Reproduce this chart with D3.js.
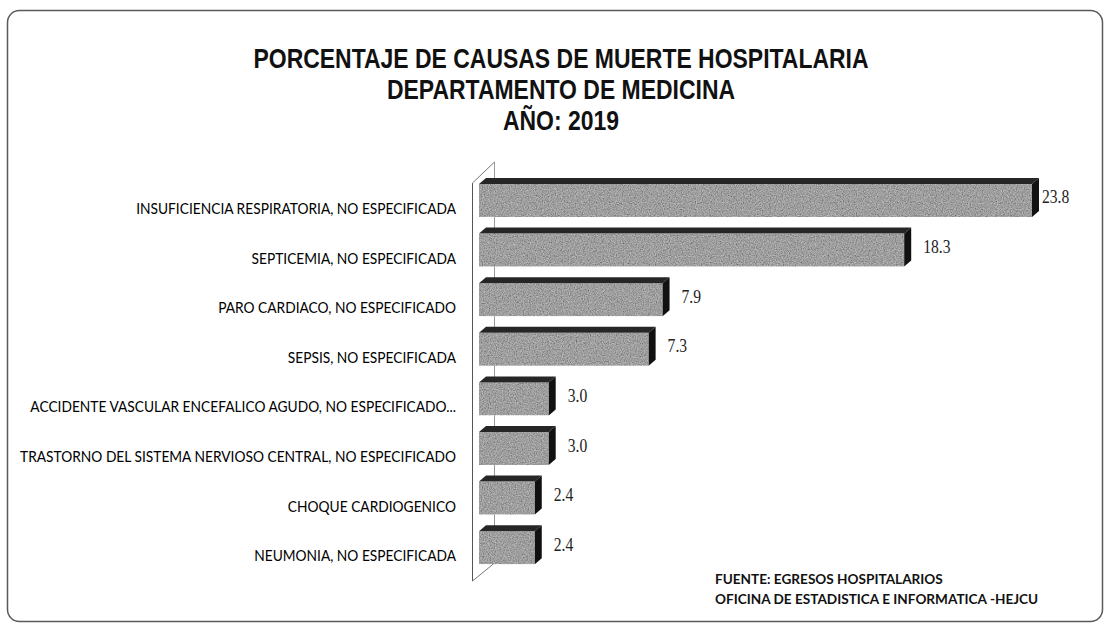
<!DOCTYPE html>
<html>
<head>
<meta charset="utf-8">
<script src="https://cdn.jsdelivr.net/npm/d3@7"></script>
<style>
  body { margin: 0; background: #fff; }
</style>
</head>
<body>
<script>
// datos
const causes = [
  "INSUFICIENCIA RESPIRATORIA, NO ESPECIFICADA",
  "SEPTICEMIA, NO ESPECIFICADA",
  "PARO CARDIACO, NO ESPECIFICADO",
  "SEPSIS, NO ESPECIFICADA",
  "ACCIDENTE VASCULAR ENCEFALICO AGUDO, NO ESPECIFICADO...",
  "TRASTORNO DEL SISTEMA NERVIOSO CENTRAL, NO ESPECIFICADO",
  "CHOQUE CARDIOGENICO",
  "NEUMONIA, NO ESPECIFICADA"
];
const values = [23.8, 18.3, 7.9, 7.3, 3.0, 3.0, 2.4, 2.4];
const titleLines = [
  "PORCENTAJE DE CAUSAS DE MUERTE HOSPITALARIA",
  "DEPARTAMENTO DE MEDICINA",
  "AÑO: 2019"
];
const sourceLines = [
  "FUENTE: EGRESOS HOSPITALARIOS",
  "OFICINA DE ESTADISTICA E INFORMATICA -HEJCU"
];

const width = 1110, height = 631;
const depthX = 7, depthY = 6;

const data = causes.map((c, i) => ({cause: c, value: values[i]}));

const svg = d3.select("body").append("svg")
    .attr("width", width)
    .attr("height", height);

// textura granulada de las barras
const defs = svg.append("defs");
const grain = defs.append("filter").attr("id", "grain")
    .attr("x", 0).attr("y", 0).attr("width", "100%").attr("height", "100%");
grain.append("feTurbulence")
    .attr("type", "fractalNoise").attr("baseFrequency", 0.85)
    .attr("numOctaves", 2).attr("seed", 5).attr("result", "noise");
grain.append("feColorMatrix")
    .attr("in", "noise").attr("type", "saturate").attr("values", 0).attr("result", "gray");
const ct = grain.append("feComponentTransfer").attr("in", "gray").attr("result", "g2");
["feFuncR", "feFuncG", "feFuncB"].forEach(f =>
  ct.append(f).attr("type", "linear").attr("slope", 1.4).attr("intercept", 0.0));
ct.append("feFuncA").attr("type", "linear").attr("slope", 0).attr("intercept", 1);
grain.append("feBlend").attr("in", "SourceGraphic").attr("in2", "g2")
    .attr("mode", "multiply").attr("result", "b");
grain.append("feComposite").attr("in", "b").attr("in2", "SourceGraphic").attr("operator", "in");

// marco
svg.append("rect")
    .attr("x", 7.5).attr("y", 10.5)
    .attr("width", 1095).attr("height", 611)
    .attr("rx", 12)
    .attr("fill", "none")
    .attr("stroke", "#5a5a5a")
    .attr("stroke-width", 1.5);

// titulo
const tx = 561;
svg.append("g").selectAll("text")
    .data(titleLines)
    .join("text")
    .attr("x", tx)
    .attr("y", (d, i) => 68 + i * 31)
    .attr("text-anchor", "middle")
    .attr("transform", `translate(${tx},0) scale(0.82,1) translate(${-tx},0)`)
    .style("font-family", "'Liberation Sans', Arial, sans-serif")
    .style("font-weight", "bold")
    .style("font-size", "28px")
    .style("fill", "#111")
    .text(d => d);

var xScale = d3.scaleLinear()
    .domain([0, 23.8])
    .range([479, 1032]);

var yScale = d3.scaleBand()
    .domain(causes)
    .range([178, 564.2])
    .paddingInner(0.214);

// pared del eje
const x0 = xScale(0);
const wall = svg.append("g")
    .attr("fill", "none")
    .attr("stroke-width", 1);
wall.append("line")
    .attr("x1", 494.5).attr("y1", 162).attr("x2", 494.5).attr("y2", 563)
    .attr("stroke", "#9a9a9a");
wall.append("line")
    .attr("x1", 472.5).attr("y1", 183).attr("x2", 472.5).attr("y2", 581)
    .attr("stroke", "#555");
wall.append("line")
    .attr("x1", 472.5).attr("y1", 183).attr("x2", 494.5).attr("y2", 162)
    .attr("stroke", "#777");
wall.append("line")
    .attr("x1", 472.5).attr("y1", 581).attr("x2", 494.5).attr("y2", 563)
    .attr("stroke", "#777");

// etiquetas de categoria
const lx0 = 456;
svg.append("g").selectAll("text")
    .data(data)
    .join("text")
    .attr("x", lx0)
    .attr("y", d => yScale(d.cause) + yScale.bandwidth() / 2 + 16.5)
    .attr("text-anchor", "end")
    .attr("transform", `translate(${lx0},0) scale(0.95,1) translate(${-lx0},0)`)
    .style("font-family", "Lato, 'Open Sans', sans-serif")
    .style("font-size", "14.5px")
    .style("fill", "#000")
    .text(d => d.cause);

// barras 3D
const bars = svg.append("g").selectAll("g")
    .data(data)
    .join("g");

bars.append("rect")
    .attr("x", x0)
    .attr("y", d => yScale(d.cause) + depthY)
    .attr("width", d => xScale(d.value) - x0)
    .attr("height", yScale.bandwidth() - depthY)
    .attr("fill", "#bababa")
    .attr("filter", "url(#grain)");

bars.append("path")
    .attr("fill", "#262626")
    .attr("d", d => {
      const t = yScale(d.cause), x1 = xScale(d.value);
      return `M${x0},${t + depthY}L${x0 + depthX},${t}L${x1 + depthX},${t}L${x1},${t + depthY}Z`;
    });

bars.append("path")
    .attr("fill", "#111")
    .attr("d", d => {
      const t = yScale(d.cause), b = t + yScale.bandwidth(), x1 = xScale(d.value);
      return `M${x1},${t + depthY}L${x1 + depthX},${t}L${x1 + depthX},${b - depthY}L${x1},${b}Z`;
    });

// valores
bars.append("text")
    .attr("transform", d => {
      const lx = Math.min(xScale(d.value) + depthX + 12, 1042);
      const ly = yScale(d.cause) + yScale.bandwidth() / 2 + 6;
      return `translate(${lx},${ly}) scale(0.8,1)`;
    })
    .style("font-family", "'Liberation Serif', 'Times New Roman', serif")
    .style("font-size", "19.5px")
    .style("fill", "#222")
    .text(d => d.value.toFixed(1));

// fuente
svg.append("g").selectAll("text")
    .data(sourceLines)
    .join("text")
    .attr("x", 715)
    .attr("y", (d, i) => 584 + i * 20)
    .style("font-family", "Lato, 'Open Sans', sans-serif")
    .style("font-weight", "bold")
    .style("font-size", "13.6px")
    .style("fill", "#111")
    .text(d => d);
</script>
</body>
</html>
